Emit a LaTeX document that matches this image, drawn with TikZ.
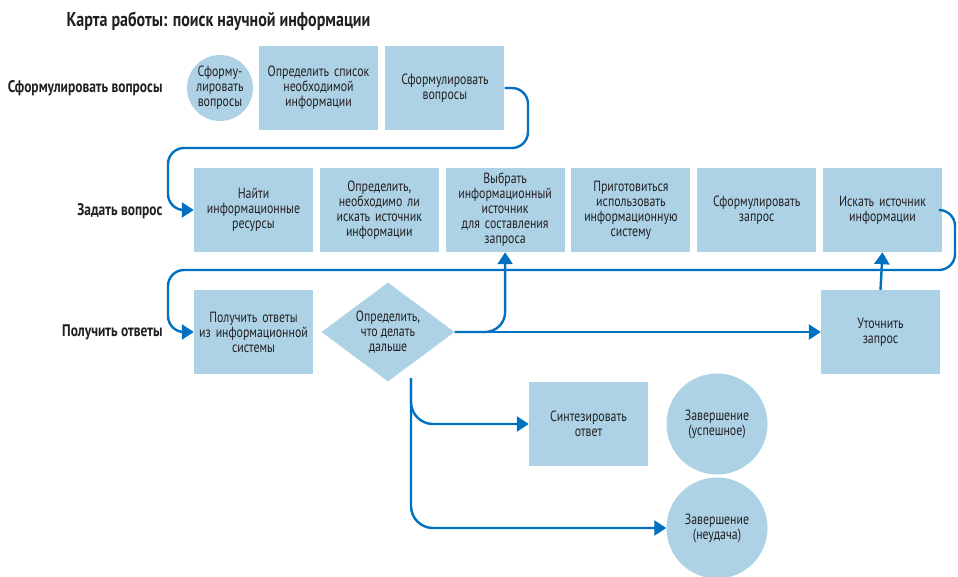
\documentclass[tikz,border=0pt]{standalone}
\usepackage{fontspec}
\setmainfont{PT Sans}[FakeStretch=0.8]
\usetikzlibrary{positioning,shapes.geometric,arrows.meta}
\definecolor{boxblue}{RGB}{173,210,230}
\definecolor{lineblue}{RGB}{0,112,192}
\definecolor{ink}{RGB}{35,31,32}

\begin{document}
\begin{tikzpicture}[x=1pt, y=-1pt, text=ink,
    task/.style={fill=boxblue, minimum width=119pt, minimum height=84pt,
      text width=114pt, inner sep=0pt, align=center,
      font=\fontsize{14.8}{15}\selectfont},
    term/.style={circle, fill=boxblue, inner sep=0pt, align=center,
      font=\fontsize{14.8}{15}\selectfont},
    decide/.style={diamond, fill=boxblue, aspect=1.34, inner sep=0pt,
      minimum width=133pt, minimum height=99pt, align=center,
      font=\fontsize{14.8}{15}\selectfont},
    phase/.style={anchor=east, font=\bfseries\fontsize{16.8}{18}\selectfont},
    flow/.style={draw=lineblue, line width=2.4pt, rounded corners=16pt,
      -{Triangle[length=12pt,width=15pt]}}]
  \useasboundingbox (0,0) rectangle (958,576);

  \node[anchor=west, font=\bfseries\fontsize{20}{22}\selectfont] (title) at (63,21)
    {Карта работы: поиск научной информации};

  % formulate questions
  \node[phase] (p1) at (166,88) {Сформулировать вопросы};
  \node[term, minimum size=66pt] (f0) at (220,88) {Сформу-\\лировать\\вопросы};
  \node[task] (f1) at (318.5,88) {Определить список\\необходимой\\информации};
  \node[task, right=7pt of f1] (f2) {Сформулировать\\вопросы};

  % ask
  \node[phase] (p2) at (166,211) {Задать вопрос};
  \node[task] (a1) at (253.5,210) {Найти\\информационные\\ресурсы};
  \node[task, right=6.4pt of a1] (a2) {Определить,\\необходимо ли\\искать источник\\информации};
  \node[task, right=6.4pt of a2] (a3) {Выбрать\\информационный\\источник\\для составления\\запроса};
  \node[task, right=6.4pt of a3] (a4) {Приготовиться\\использовать\\информационную\\систему};
  \node[task, right=6.4pt of a4] (a5) {Сформулировать\\запрос};
  \node[task, right=6.4pt of a5] (a6) {Искать источник\\информации};

  % get answers
  \node[phase] (p3) at (166,332) {Получить ответы};
  \node[task] (get) at (253.5,332) {Получить ответы\\из информационной\\системы};
  \node[decide] (next) at (388,332) {Определить,\\что делать\\дальше};
  \node[task] (refine) at (880.5,332) {Уточнить\\запрос};
  \node[task] (synth) at (588.5,424) {Синтезировать\\ответ};
  \node[term, minimum size=101pt] (ok) at (717,424) {Завершение\\(успешное)};
  \node[term, minimum size=101pt] (fail) at (717,528) {Завершение\\(неудача)};

  \coordinate (bend1) at (528,148);
  \coordinate (back1) at (168,148);
  \coordinate (bend2) at (955,270);
  \coordinate (back2) at (168,270);
  \coordinate (fork) at (411,378);

  \draw[flow] (f2.east) -| (bend1) -- (back1) |- (a1.west);
  \draw[flow] (a6.east) -| (bend2) -- (back2) |- (get.west);
  \draw[flow] (next.east) -- (refine.west);
  \draw[flow, rounded corners=20pt] (next.east) -| (a3.south);
  \draw[flow] (refine.north) -- (a6.south);
  \draw[flow, rounded corners=22pt] (fork) |- (synth.west);
  \draw[flow, rounded corners=22pt] (fork) |- (fail.west);
\end{tikzpicture}
\end{document}
